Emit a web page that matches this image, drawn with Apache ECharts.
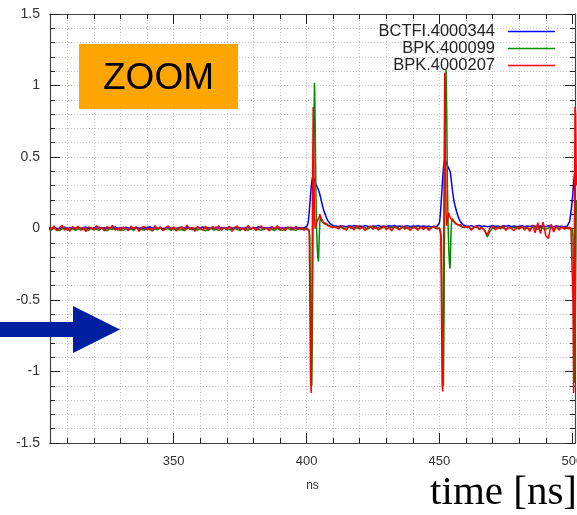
<!DOCTYPE html>
<html>
<head>
<meta charset="utf-8">
<script src="https://cdn.jsdelivr.net/npm/echarts@6/dist/echarts.min.js"></script>
<style>html,body{margin:0;padding:0;background:#fff;overflow:hidden;}#c{width:577px;height:515px;}</style>
</head>
<body>
<div id="c"></div>
<script>
// sample times (ns)
const times = [
303,304,305,306,307,308,309,310,311,312,
313,314,315,316,317,318,319,320,321,322,
323,324,325,326,327,328,329,330,331,332,
333,334,335,336,337,338,339,340,341,342,
343,344,345,346,347,348,349,350,351,352,
353,354,355,356,357,358,359,360,361,362,
363,364,365,366,367,368,369,370,371,372,
373,374,375,376,377,378,379,380,381,382,
383,384,385,386,387,388,389,390,391,392,
393,394,395,396,397,398,399,400,
400.5,400.75,401,401.25,401.5,401.75,402,402.25,402.5,402.75,403,403.25,403.5,403.75,404,404.25,404.5,404.75,405,405.25,405.5,
406,406.5,407,407.5,408,408.5,409,409.5,410,
411,412,413,414,415,416,417,418,419,420,
421,422,423,424,425,426,427,428,429,430,
431,432,433,434,435,436,437,438,439,440,
441,442,443,444,445,446,447,448,449,
450,450.25,450.5,450.75,451,451.25,451.5,451.75,452,452.25,452.5,452.75,453,453.25,453.5,453.75,454,454.25,454.5,454.75,455,
455.5,456,456.5,457,457.5,458,458.5,459,459.5,
460,461,462,463,464,465,466,467,468,469,
470,471,472,473,474,475,476,477,478,479,
480,481,482,483,484,485,486,487,488,489,
490,491,492,493,494,495,496,497,498,
498.5,499,499.5,500,500.25,500.5,500.75,501,501.25,501.5
];

const blueValues = [
0.004,0,0.007,0.002,-0.003,0.005,0.009,0.001,0.006,-0.002,
0.003,0.008,0,0.005,0.01,0.002,-0.002,0.006,0.004,0.009,
0.001,0.005,-0.003,0.007,0.003,0.011,0,0.006,0.002,0.008,
0.004,-0.001,0.006,0.009,0.002,0.005,0,0.007,0.012,0.003,
0.006,0.001,0.008,-0.002,0.004,0.01,0.002,0.006,0,0.005,
0.009,0.003,0.007,0.001,0.005,-0.001,0.008,0.004,0.011,0.002,
0.006,0,0.004,0.009,0.003,0.007,0.001,0.005,0.01,0.002,
0.006,0.003,0.008,-0.002,0.005,0.009,0.001,0.006,0.003,0.012,
0.004,0.007,0,0.006,0.01,0.002,0.005,0.008,0.001,0.006,
0.003,0.009,0.004,0,0.006,0.002,0.005,0.012,
0.03,0.06,0.11,0.17,0.23,0.29,0.33,0.36,0.37,0.355,0.34,0.325,0.31,0.3,0.29,0.28,0.27,0.255,0.24,0.22,0.2,
0.16,0.125,0.1,0.075,0.055,0.042,0.032,0.025,0.02,
0.018,0.014,0.02,0.016,0.012,0.019,0.015,0.021,0.013,0.017,
0.014,0.02,0.016,0.011,0.018,0.015,0.022,0.013,0.017,0.012,
0.019,0.015,0.021,0.014,0.018,0.011,0.016,0.02,0.013,0.017,
0.015,0.019,0.012,0.018,0.014,0.016,0.011,0.015,0.012,
0.04,0.08,0.14,0.21,0.29,0.36,0.42,0.46,0.48,0.475,0.465,0.455,0.44,0.43,0.42,0.41,0.4,0.37,0.33,0.29,0.25,
0.19,0.15,0.115,0.085,0.062,0.045,0.033,0.025,0.02,
0.018,0.015,0.02,0.013,0.017,0.021,0.014,0.018,0.012,0.016,
0.02,0.014,0.017,0.011,0.019,0.015,0.021,0.013,0.018,0.014,
0.016,0.02,0.012,0.017,0.014,0.019,0.015,0.011,0.018,0.016,
0.013,0.019,0.015,0.012,0.017,0.014,0.016,0.012,0.015,
0.02,0.05,0.12,0.2,0.26,0.32,0.37,0.41,0.43,0.44
];

const greenValues = [
-0.006,-0.012,0.002,-0.009,-0.015,-0.003,0.004,-0.011,-0.007,0.001,
-0.013,-0.005,0.003,-0.01,-0.002,-0.014,0.005,-0.008,-0.004,-0.012,
0.002,-0.009,-0.016,-0.001,-0.007,0.004,-0.011,-0.006,-0.013,0,
-0.008,-0.003,-0.014,0.003,-0.01,-0.005,-0.012,0.001,-0.007,-0.015,
-0.002,-0.009,0.004,-0.012,-0.006,-0.001,-0.013,-0.004,0.002,-0.01,
-0.007,-0.014,-0.003,0.003,-0.009,-0.005,-0.012,0,-0.008,-0.016,
-0.004,0.002,-0.011,-0.006,-0.013,-0.002,0.004,-0.009,-0.005,-0.012,
-0.001,-0.008,-0.015,0.003,-0.007,-0.011,-0.004,0.001,-0.01,-0.006,
-0.013,-0.003,0.002,-0.009,-0.005,-0.014,0,-0.008,-0.012,-0.004,
0.003,-0.01,-0.006,-0.013,-0.002,-0.008,0.001,-0.005,
-0.004,-0.006,-0.01,-0.06,-0.55,-1.02,-1.1,-0.62,0.12,0.72,1.02,0.75,0.3,0.02,-0.12,-0.2,-0.23,-0.08,0.04,0.08,0.06,
0.045,0.035,0.03,0.022,0.025,0.015,0.018,0.01,0.012,
0.008,0.002,0.011,-0.003,0.006,0.012,0,0.009,0.004,-0.002,
0.01,0.005,-0.004,0.008,0.013,0.001,0.007,-0.003,0.011,0.004,
-0.001,0.009,0.006,0.012,-0.002,0.005,0.01,0,0.008,0.003,
0.011,-0.003,0.007,0.004,0.01,-0.001,0.006,0.009,0.002,
0.003,-0.002,-0.01,-0.07,-0.6,-1.02,-1.1,-0.55,0.25,0.85,1.11,0.8,0.32,0.04,-0.14,-0.24,-0.28,-0.1,0.03,0.07,0.06,
0.05,0.04,0.032,0.025,0.02,0.018,0.012,0.01,0.008,
0.004,0.009,-0.002,0.006,0.011,0,0.007,-0.01,-0.06,-0.02,
0.003,0.008,-0.001,0.01,0.004,-0.003,0.007,0.002,0.009,-0.002,
0.006,0.011,0,0.005,-0.004,0.008,0.002,-0.006,0.007,0.001,
-0.005,0.004,0.009,-0.002,0.006,0,0.008,0.003,0.005,
0.002,0.004,0,-0.005,-0.06,-0.5,-1.08,-0.85,-0.3,0.2
];

const redValues = [
0.012,-0.008,0.018,-0.015,0.004,0.021,-0.011,0.006,-0.019,0.013,
-0.004,0.016,-0.013,0.009,-0.021,0.011,0.002,-0.009,0.019,-0.006,
0.008,-0.017,0.014,-0.002,0.022,-0.012,0.005,-0.016,0.01,0.001,
-0.014,0.017,-0.007,0.012,-0.02,0.007,0.015,-0.01,0.003,-0.018,
0.02,-0.005,0.011,-0.014,0.006,0.018,-0.009,0.013,-0.017,0.004,
0.01,-0.012,0.023,-0.006,0.008,-0.019,0.014,0,-0.011,0.017,
-0.015,0.005,0.012,-0.008,0.019,-0.013,0.007,-0.003,0.015,-0.02,
0.009,0.016,-0.01,0.004,-0.016,0.021,-0.007,0.011,-0.013,0.002,
0.018,-0.009,0.006,-0.017,0.013,-0.004,0.02,-0.012,0.008,-0.015,
0.011,0.003,-0.01,0.016,-0.006,0.009,-0.013,0.005,
-0.008,0.006,-0.02,-0.48,-1.05,-1.15,-0.55,0.2,0.85,0.42,0.08,0,0.02,0.04,0.05,0.06,0.07,0.08,0.1,0.09,0.07,
0.055,0.04,0.03,0.035,0.02,0.025,0.012,0.018,0.006,
0.014,-0.004,0.019,0.002,-0.012,0.016,0.005,-0.009,0.021,-0.002,
0.011,-0.015,0.008,0.017,-0.006,0.013,-0.011,0.004,0.018,-0.008,
0.01,-0.016,0.014,0.001,-0.01,0.02,-0.005,0.009,-0.014,0.012,
0.003,-0.011,0.016,-0.007,0.01,-0.013,0.006,0.015,-0.004,
0.004,-0.01,-0.03,-0.5,-1.08,-1.14,-0.5,0.35,1.09,0.55,0.12,0.02,0.05,0.08,0.11,0.09,0.1,0.07,0.08,0.06,0.055,
0.045,0.035,0.04,0.025,0.02,0.028,0.012,0.02,0.008,
-0.005,0.014,-0.012,0.009,0.017,-0.008,0.006,-0.015,-0.045,0.004,
0.016,-0.01,0.012,-0.003,0.019,-0.013,0.008,0.002,-0.016,0.014,
-0.006,0.018,-0.011,0.01,-0.02,0.025,-0.03,0.04,-0.035,0.045,
-0.05,-0.07,0.03,-0.025,0.02,-0.012,0.014,-0.006,0.01,
-0.004,0.012,-0.008,-0.02,-0.5,-1.15,-0.2,0.85,0.8,0.3
];

const seriesNames = ['BCTFI.4000344', 'BPK.400099', 'BPK.4000207'];
const seriesColors = ['#0000ff', '#008a00', '#ff0000'];
const xMajorTicks = [350, 400, 450, 500];
const xMinorTicks = [310,320,330,340,350,360,370,380,390,400,410,420,430,440,450,460,470,480,490,500];

const chart = echarts.init(document.getElementById('c'), null, {renderer: 'canvas', width: 577, height: 515});
const toPairs = vals => times.map((t, i) => [t, vals[i]]);
const allValues = [blueValues, greenValues, redValues];

const xMin = 303.5, xMax = 501;
const gridDot = {color: '#c4c4c4', width: 1, type: [1, 2]};
const axisCol = '#444';

function xAxisDef(pos, major, withLabels) {
  return {
    type: 'value', position: pos, min: xMin, max: xMax,
    axisLine: {show: true, onZero: false, lineStyle: {color: axisCol, width: 1.2}},
    axisTick: {show: true, inside: true, length: major ? 10 : 5, customValues: major ? xMajorTicks : xMinorTicks,
               lineStyle: {color: '#222', width: 1}},
    axisLabel: withLabels ? {show: true, customValues: xMajorTicks, fontFamily: 'Liberation Sans', fontSize: 13, color: '#333', margin: 12, hideOverlap: false} : {show: false},
    splitLine: {show: (!major && pos === 'bottom'), lineStyle: gridDot},
    name: withLabels ? 'ns' : '',
    nameLocation: 'middle', nameGap: 37,
    nameTextStyle: {fontFamily: 'Liberation Sans', fontSize: 12, color: '#333'}
  };
}

function yAxisDef(pos, withLabels) {
  return {
    type: 'value', position: pos, min: -1.5, max: 1.5, interval: 0.5,
    axisLine: {show: true, onZero: false, lineStyle: {color: axisCol, width: 1.2}},
    axisTick: {show: true, inside: true, length: 10, lineStyle: {color: '#222', width: 1}},
    minorTick: {show: true, splitNumber: 5, length: 5, lineStyle: {color: '#222', width: 1}},
    axisLabel: withLabels ? {show: true, fontFamily: 'Liberation Sans', fontSize: 14, color: '#333', margin: 10} : {show: false},
    splitLine: {show: withLabels, lineStyle: gridDot},
    minorSplitLine: {show: withLabels, lineStyle: gridDot}
  };
}

const option = {
  animation: false,
  backgroundColor: '#ffffff',
  grid: {left: 50, right: 2, top: 14, bottom: 72, containLabel: false, outerBoundsMode: 'none'},
  xAxis: [
    xAxisDef('bottom', true, true),
    xAxisDef('bottom', false, false),
    xAxisDef('top', true, false),
    xAxisDef('top', false, false)
  ],
  yAxis: [yAxisDef('left', true), yAxisDef('right', false)],
  legend: {
    data: seriesNames, orient: 'vertical', align: 'right', right: 22, top: 23, padding: 0,
    icon: 'rect', itemWidth: 47, itemHeight: 1.5, itemGap: 0, selectedMode: false,
    textStyle: {fontFamily: 'Liberation Sans', fontSize: 16.5, color: '#222', lineHeight: 16.7, padding: [0, 8, 0, 0]}
  },
  series: seriesNames.map((name, k) => ({
    name: name, type: 'line', xAxisIndex: 0, yAxisIndex: 0,
    data: toPairs(allValues[k]), showSymbol: false, symbol: 'none',
    color: seriesColors[k],
    lineStyle: {color: seriesColors[k], width: 1.5},
    clip: true, z: 2 + k
  })),
  graphic: [
    {type: 'rect', shape: {x: 79, y: 44, width: 159, height: 65}, style: {fill: '#FFA500'}, z: 100},
    {type: 'text', x: 158.5, y: 78.5, z: 101,
     style: {text: 'ZOOM', font: '37px "Liberation Sans"', fill: '#000', align: 'center', verticalAlign: 'middle'}},
    {type: 'polygon', z: 100,
     shape: {points: [[0, 322], [73, 322], [73, 306], [120, 329.5], [73, 353], [73, 337], [0, 337]]},
     style: {fill: '#0020A0'}},
    {type: 'text', x: 577, y: 493, z: 100,
     style: {text: 'time [ns]', font: '41px "Liberation Serif"', fill: '#000', align: 'right', verticalAlign: 'middle'}}
  ]
};
chart.setOption(option);
</script>
</body>
</html>
